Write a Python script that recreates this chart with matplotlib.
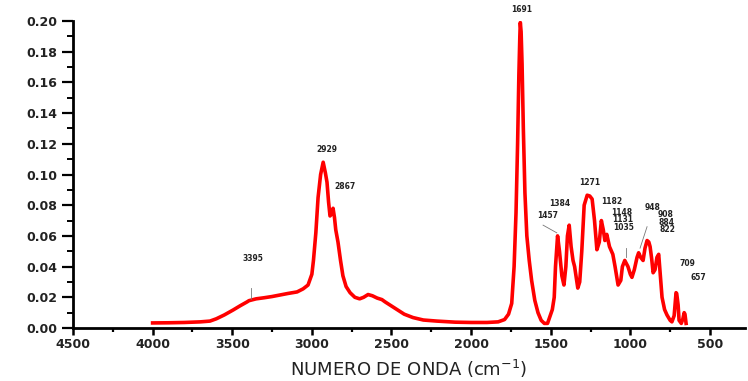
import numpy as np
import matplotlib.pyplot as plt
from matplotlib.ticker import MultipleLocator

# FTIR spectrum read point by point (wavenumber in cm-1, absorbance)
wavenumber = np.array([
    4000, 3900, 3800, 3700, 3640, 3600, 3550, 3495, 3450, 3407, 3395, 3350,
    3300, 3250, 3200, 3150, 3093, 3055, 3024, 3000, 2990, 2975, 2961, 2945,
    2929, 2915, 2905, 2895, 2886, 2878, 2867, 2858, 2850, 2836, 2820, 2805,
    2785, 2760, 2730, 2700, 2675, 2647, 2620, 2590, 2560, 2540, 2510, 2465,
    2420, 2365, 2300, 2215, 2100, 2000, 1900, 1830, 1790, 1765, 1745, 1730,
    1718, 1708, 1700, 1694, 1691, 1686, 1680, 1672, 1662, 1650, 1635, 1620,
    1600, 1580, 1560, 1540, 1520, 1500, 1490, 1478, 1470, 1457, 1445, 1430,
    1417, 1405, 1395, 1384, 1372, 1360, 1350, 1330, 1318, 1305, 1290, 1271,
    1255, 1240, 1225, 1210, 1195, 1182, 1170, 1160, 1148, 1131, 1110, 1096,
    1077, 1060, 1050, 1035, 1015, 1000, 990, 975, 958, 948, 935, 920,
    908, 895, 884, 876, 866, 857, 845, 833, 822, 812, 801, 785,
    770, 750, 739, 725, 713, 709, 700, 694, 680, 670, 662, 657, 650])
absorbance = np.array([
    0.0033, 0.0034, 0.0036, 0.0040, 0.0045, 0.0060, 0.0085, 0.0117, 0.0145, 0.0170, 0.0178, 0.0190,
    0.0197, 0.0205, 0.0215, 0.0225, 0.0235, 0.0255, 0.0280, 0.0350, 0.0440, 0.0620, 0.0850, 0.1000,
    0.1080, 0.1010, 0.0950, 0.0820, 0.0730, 0.0740, 0.0780, 0.0720, 0.0640, 0.0560, 0.0440, 0.0340,
    0.0270, 0.0230, 0.0200, 0.0190, 0.0200, 0.0218, 0.0210, 0.0195, 0.0185, 0.0170, 0.0150, 0.0120,
    0.0090, 0.0068, 0.0052, 0.0045, 0.0038, 0.0036, 0.0036, 0.0040, 0.0055, 0.0090, 0.0160, 0.0400,
    0.0750, 0.1200, 0.1650, 0.1900, 0.1990, 0.1930, 0.1720, 0.1300, 0.0880, 0.0600, 0.0440, 0.0310,
    0.0180, 0.0100, 0.0050, 0.0030, 0.0030, 0.0090, 0.0120, 0.0200, 0.0400, 0.0600, 0.0500, 0.0340,
    0.0280, 0.0400, 0.0600, 0.0670, 0.0530, 0.0440, 0.0400, 0.0260, 0.0300, 0.0500, 0.0800, 0.0865,
    0.0860, 0.0840, 0.0700, 0.0510, 0.0560, 0.0700, 0.0640, 0.0570, 0.0610, 0.0530, 0.0480, 0.0400,
    0.0280, 0.0310, 0.0400, 0.0440, 0.0400, 0.0350, 0.0330, 0.0380, 0.0460, 0.0490, 0.0460, 0.0440,
    0.0520, 0.0570, 0.0560, 0.0530, 0.0450, 0.0360, 0.0380, 0.0460, 0.0480, 0.0350, 0.0200, 0.0120,
    0.0085, 0.0050, 0.0040, 0.0080, 0.0230, 0.0225, 0.0150, 0.0050, 0.0030, 0.0060, 0.0100, 0.0090, 0.0030])

# peak labels and where their text sits
peak_labels = ['1691', '2929', '2867', '3395', '1271', '1384', '1457', '1182',
               '1148', '1131', '1035', '948', '908', '884', '822', '709', '657']
label_x = [1680, 2905, 2792, 3370, 1253, 1442, 1517, 1115,
           1052, 1046, 1040, 858, 776, 770, 770, 644, 575]
label_y = [0.2078, 0.116, 0.0919, 0.0456, 0.0951, 0.0814, 0.073, 0.0827,
           0.0755, 0.0704, 0.0653, 0.0785, 0.0741, 0.0690, 0.0639, 0.0417, 0.0332]

fig = plt.figure(figsize=(7.48, 3.81), dpi=100)
ax = fig.add_axes([73 / 748, 1 - 328 / 381, 672 / 748, 307 / 381])

ax.plot(wavenumber, absorbance, color='#ff0000', lw=2.6, solid_joinstyle='round')

for lab, tx, ty in zip(peak_labels, label_x, label_y):
    ax.text(tx, ty, lab, fontsize=5.5, fontweight='bold', ha='center', va='center',
            color='#222222', clip_on=False)

# thin leader lines
leaders = [((3380, 3380), (0.019, 0.026)),
           ((1548, 1462), (0.067, 0.062)),
           ((895, 939), (0.066, 0.052)),
           ((1027, 1027), (0.052, 0.046))]
for lx, ly in leaders:
    ax.plot(lx, ly, color='#777777', lw=0.6)

ax.set_xlim(4500, 280)
ax.set_ylim(0, 0.20)
ax.xaxis.set_major_locator(MultipleLocator(500))
ax.xaxis.set_minor_locator(MultipleLocator(250))
ax.yaxis.set_major_locator(MultipleLocator(0.02))
ax.yaxis.set_minor_locator(MultipleLocator(0.01))
ax.set_yticks(np.arange(0, 0.201, 0.02))
ax.set_yticklabels(['%.2f' % v for v in np.arange(0, 0.201, 0.02)])

for s in ['top', 'right']:
    ax.spines[s].set_visible(False)
for s in ['left', 'bottom']:
    ax.spines[s].set_linewidth(2)

ax.tick_params(axis='y', which='major', length=8, width=1.6, direction='out', pad=3)
ax.tick_params(axis='y', which='minor', length=4, width=1.4, direction='out')
ax.tick_params(axis='x', which='major', length=5, width=1.8, direction='out', pad=2)
ax.tick_params(axis='x', which='minor', length=3, width=1.6, direction='out')
for t in ax.get_xticklabels() + ax.get_yticklabels():
    t.set_fontweight('bold')
    t.set_fontsize(9)
    t.set_color('#222222')

ax.set_xlabel('NUMERO DE ONDA (cm$^{-1}$)', fontsize=13, color='#222222', labelpad=5)

fig.savefig('out.png', dpi=100)
